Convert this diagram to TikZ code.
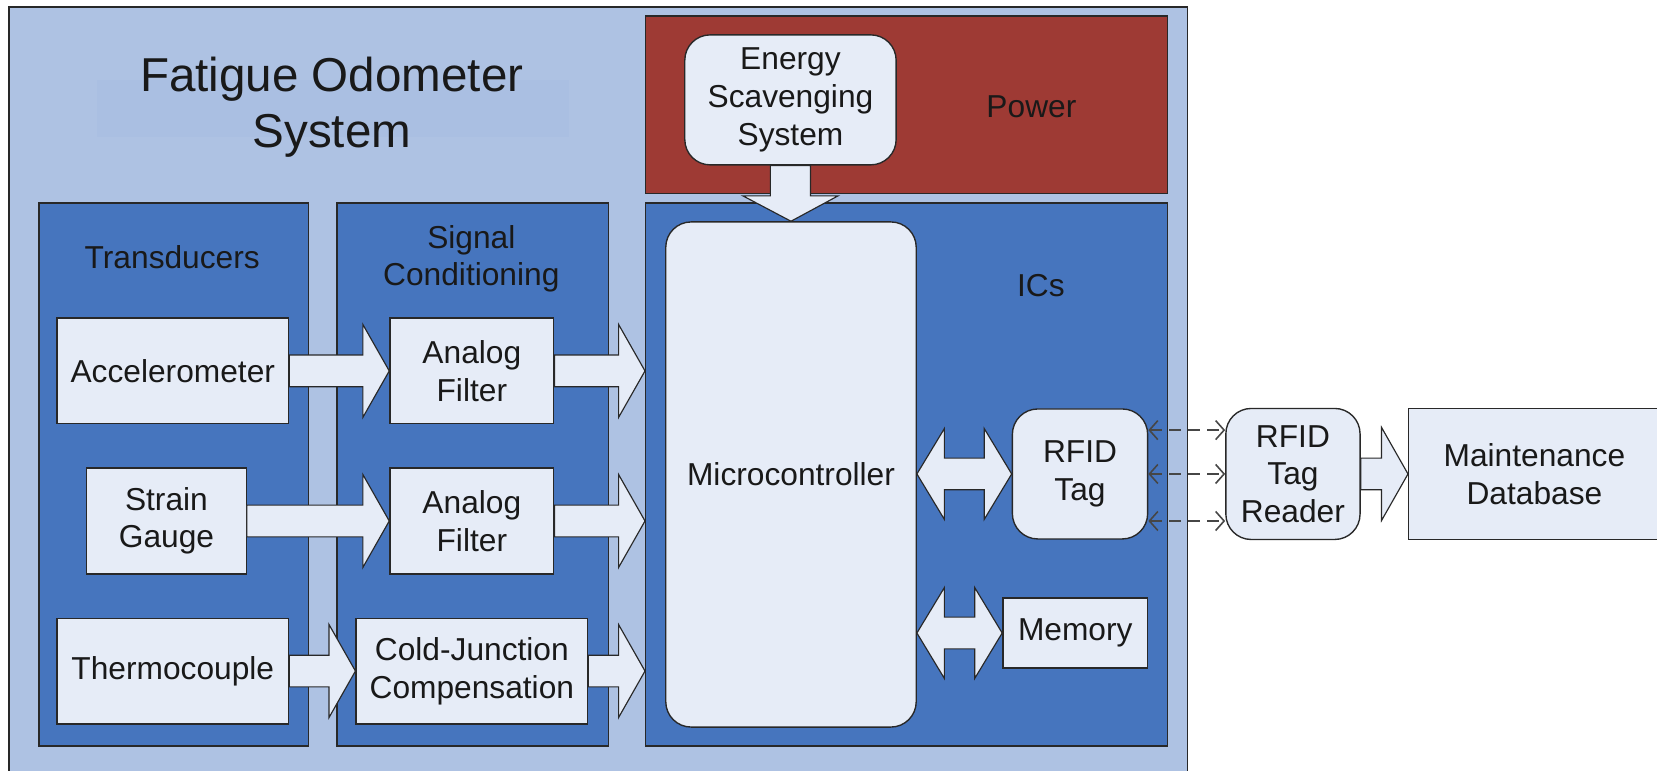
\documentclass[tikz,border=0pt]{standalone}
\usepackage{fontspec}
\setmainfont{Liberation Sans}
\usetikzlibrary{arrows.meta,calc}
\definecolor{bglight}{RGB}{174,194,227}
\definecolor{titlebg}{RGB}{170,191,226}
\definecolor{midblue}{RGB}{70,117,190}
\definecolor{powred}{RGB}{158,58,52}
\definecolor{nodefill}{RGB}{230,236,247}
\definecolor{edgec}{RGB}{40,40,40}
\definecolor{dashc}{RGB}{70,70,70}
\definecolor{txt}{RGB}{25,25,25}
\newcommand{\rightblock}[3]{%
  \draw[barrow] let \p1=(#1.east), \p2=(#2.west), \p3=(#3.center) in
   (\x1,\y3+15pt) -- (\x2-25pt,\y3+15pt) -- (\x2-25pt,\y3+44pt) -- (\x2,\y3)
   -- (\x2-25pt,\y3-44pt) -- (\x2-25pt,\y3-15pt) -- (\x1,\y3-15pt) -- cycle;}
\newcommand{\dblblock}[3]{%
  \draw[barrow] let \p1=(#1.east), \p2=(#2.west), \p3=(#3.center) in
   (\x1,\y3) -- (\x1+26pt,\y3+43pt) -- (\x1+26pt,\y3+15pt) -- (\x2-26pt,\y3+15pt)
   -- (\x2-26pt,\y3+43pt) -- (\x2,\y3) -- (\x2-26pt,\y3-43pt) -- (\x2-26pt,\y3-15pt)
   -- (\x1+26pt,\y3-15pt) -- (\x1+26pt,\y3-43pt) -- cycle;}
\begin{document}
\begin{tikzpicture}[x=1pt,y=-1pt,
  panel/.style={draw=edgec, line width=1.3pt, inner sep=0pt},
  box/.style={draw=edgec, fill=nodefill, line width=1.3pt, align=center, inner sep=0pt, text=txt, font=\fontsize{30}{35.5}\selectfont},
  rbox/.style={box, rounded corners=24pt},
  lbl/.style={align=center, text=txt, inner sep=0pt, font=\fontsize{30}{35.5}\selectfont},
  barrow/.style={draw=edgec, fill=nodefill, line width=1.1pt, line join=miter},
  dasharrow/.style={draw=dashc, line width=1.5pt, dash pattern=on 11pt off 7pt,
    {Straight Barb[length=8pt,width=18pt]}-{Straight Barb[length=8pt,width=18pt]}}
]
\useasboundingbox (0,0) rectangle (1568,729);
% outer system box
\node[panel, fill=bglight, minimum width=1115, minimum height=742, anchor=north west] (outer) at (8,6) {};
\node[fill=titlebg, minimum width=446, minimum height=54, inner sep=0pt] (titlebox) at (315,103) {};
\node[lbl, font=\fontsize{45}{53}\selectfont] (title) at (314,101) {Fatigue Odometer\\System};
% panels
\node[panel, fill=midblue, minimum width=255, minimum height=514] (trans) at (164.5,449) {};
\node[panel, fill=midblue, minimum width=257, minimum height=514] (sig) at (447.5,449) {};
\node[panel, fill=midblue, minimum width=494, minimum height=514] (ics) at (858,449) {};
\node[panel, fill=powred, minimum width=494, minimum height=168] (power) at (858,99) {};
% panel labels
\node[lbl] (translbl) at (163,243) {Transducers};
\node[lbl] (siglbl) at (446,245) {Signal\\Conditioning};
\node[lbl] (icslbl) at (985,270) {ICs};
\node[lbl] (powlbl) at (976,101) {Power};
% blocks
\node[box, minimum width=219, minimum height=100] (acc) at (163.5,351) {Accelerometer};
\node[box, minimum width=151, minimum height=100] (sg) at (157.5,493) {Strain\\Gauge};
\node[box, minimum width=219, minimum height=100] (tc) at (163.5,635) {Thermocouple};
\node[box, minimum width=155, minimum height=100] (af1) at (446.5,351) {Analog\\Filter};
\node[box, minimum width=155, minimum height=100] (af2) at (446.5,493) {Analog\\Filter};
\node[box, minimum width=219, minimum height=100] (cjc) at (446.5,635) {Cold-Junction\\Compensation};
\node[rbox, minimum width=200, minimum height=123] (ess) at (748,94.5) {Energy\\Scavenging\\System};
\node[rbox, minimum width=237, minimum height=478] (micro) at (748.5,449) {Microcontroller};
\node[rbox, minimum width=128, minimum height=123] (rfid) at (1022,448.5) {RFID\\Tag};
\node[box, minimum width=137, minimum height=66] (mem) at (1017.5,599) {Memory};
\node[rbox, minimum width=127, minimum height=124] (reader) at (1223.5,448.5) {RFID\\Tag\\Reader};
\node[box, minimum width=238, minimum height=124] (maint) at (1452,448.5) {Maintenance\\Database};
% block arrows
\rightblock{acc}{af1}{acc}
\rightblock{sg}{af2}{sg}
\rightblock{tc}{cjc}{tc}
\rightblock{af1}{ics}{af1}
\rightblock{af2}{ics}{af2}
\rightblock{cjc}{ics}{cjc}
\rightblock{reader}{maint}{reader}
\dblblock{micro}{rfid}{rfid}
\dblblock{micro}{mem}{mem}
\draw[barrow] let \p1=(ess.south), \p2=(micro.north) in
  (\x1-19pt,\y1) -- (\x1-19pt,\y2+24pt) -- (\x1-45pt,\y2+24pt) -- (\x2,\y2)
  -- (\x1+45pt,\y2+24pt) -- (\x1+19pt,\y2+24pt) -- (\x1+19pt,\y1) -- cycle;
% wireless links
\draw[dasharrow] ([yshift=41.5pt]rfid.east) -- ([yshift=41.5pt]reader.west);
\draw[dasharrow] (rfid.east) -- (reader.west);
\draw[dasharrow] ([yshift=-44.5pt]rfid.east) -- ([yshift=-44.5pt]reader.west);
\end{tikzpicture}
\end{document}
